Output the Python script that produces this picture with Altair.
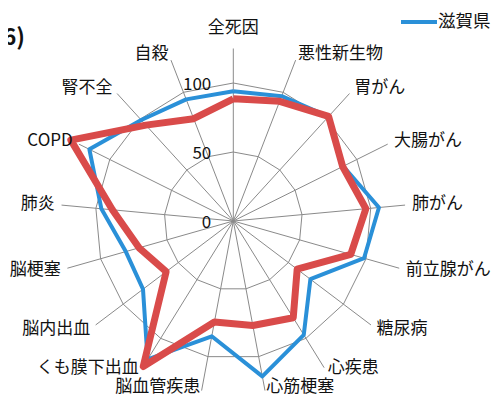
import altair as alt
import pandas as pd

categories = ["全死因", "悪性新生物", "胃がん", "大腸がん", "肺がん", "前立腺がん", "糖尿病",
              "心疾患", "心筋梗塞", "脳血管疾患", "くも膜下出血", "脳内出血", "脳梗塞",
              "肺炎", "COPD", "腎不全", "自殺"]
shiga = [94, 97, 102.5, 89, 106, 98.5, 70, 97, 114.5, 85, 118, 82, 81, 96, 116.5, 99, 94.5]
other = [88.5, 93, 102.5, 88.5, 96.5, 88.5, 58, 82.5, 77, 74.5, 124, 61, 71, 88, 131.5, 94, 79.5]
series_names = ["滋賀県", "対象地域"]
series_colors = ["#2A90D8", "#D94B4A"]
ring_levels = [50, 100]
tick_values = [0, 50, 100]
axis_max = 125
label_radius = 130
title_frag = ["(2012-2016)", "男性"]

n = len(categories)
W, H = 483, 387
cx, cy = 225.3, 213.0
ppu = 1.38
xs = alt.Scale(domain=[-cx / ppu, (W - cx) / ppu], nice=False, zero=False)
ys = alt.Scale(domain=[-(H - cy) / ppu, cy / ppu], nice=False, zero=False)
ang = f"datum.idx * 2 * PI / {n}"
FONT = "Noto Sans CJK JP"

def X(f):
    return alt.X(f, type="quantitative", scale=xs, axis=None)

def Y(f):
    return alt.Y(f, type="quantitative", scale=ys, axis=None)

# series data (closed polygons)
rows = []
for s, vals in zip(series_names, [shiga, other]):
    for i in range(n + 1):
        rows.append({"series": s, "order": i, "idx": i % n, "value": vals[i % n]})
sdf = pd.DataFrame(rows)

ring_rows = [{"level": lv, "order": i, "idx": i % n} for lv in ring_levels for i in range(n + 1)]
rdf = pd.DataFrame(ring_rows)

cdf = pd.DataFrame({"idx": list(range(n)), "name": categories})
tdf = pd.DataFrame({"v": tick_values, "t": [str(v) for v in tick_values]})

rings = alt.Chart(rdf).transform_calculate(
    x=f"datum.level * sin({ang})", y=f"datum.level * cos({ang})"
).mark_line(color="#8a8a8a", strokeWidth=1).encode(
    x=X("x:Q"), y=Y("y:Q"), detail="level:N", order="order:Q")

spokes = alt.Chart(cdf).transform_calculate(
    x0="0", y0="0",
    x2=f"{axis_max} * sin({ang})", y2=f"{axis_max} * cos({ang})"
).mark_rule(color="#8a8a8a", strokeWidth=1).encode(
    x=X("x0:Q"), y=Y("y0:Q"), x2="x2:Q", y2="y2:Q")

def series_layer(name, color, width):
    return alt.Chart(sdf).transform_filter(alt.datum.series == name).transform_calculate(
        x=f"datum.value * sin({ang})", y=f"datum.value * cos({ang})"
    ).mark_line(color=color, strokeWidth=width, strokeJoin="round").encode(
        x=X("x:Q"), y=Y("y:Q"), order="order:Q")

blue = series_layer(series_names[0], series_colors[0], 4)
red = series_layer(series_names[1], series_colors[1], 7)

# label anchor at label_radius; nudge labels near the bottom/top (pixels -> data units)
lab_base = alt.Chart(cdf).transform_calculate(
    s=f"sin({ang})", c=f"cos({ang})",
    lx=f"{label_radius} * sin({ang})",
    ly=(f"{label_radius} * cos({ang}) + "
        f"(cos({ang}) <= -0.9 ? 10.5 : (cos({ang}) <= -0.8 ? 6 : (cos({ang}) > 0.99 ? 14 : 0))) / {ppu}"))

TXT = dict(font=FONT, fontSize=17, color="#111", baseline="middle")
lab_right = lab_base.transform_filter("datum.s > 0.05").mark_text(
    align="left", **TXT).encode(x=X("lx:Q"), y=Y("ly:Q"), text="name:N")
lab_left = lab_base.transform_filter("datum.s < -0.05").mark_text(
    align="right", **TXT).encode(x=X("lx:Q"), y=Y("ly:Q"), text="name:N")
lab_top = lab_base.transform_filter("abs(datum.s) <= 0.05").mark_text(
    align="center", **TXT).encode(x=X("lx:Q"), y=Y("ly:Q"), text="name:N")

ticks = alt.Chart(tdf).transform_calculate(x0="0").mark_text(
    align="right", dx=-22, dy=2, **TXT).encode(
    x=X("x0:Q"), y=Y("v:Q"), text="t:N")

legend_df = pd.DataFrame({"name": [series_names[0]]})
leg_line = alt.Chart(legend_df).mark_rule(color=series_colors[0], strokeWidth=4).encode(
    x=alt.value(393), x2=alt.value(429), y=alt.value(14))
leg_text = alt.Chart(legend_df).mark_text(
    align="left", baseline="middle", font=FONT, fontSize=17.5, color="#111").encode(
    x=alt.value(430), y=alt.value(14), text="name:N")

tdf2 = pd.DataFrame({"t": title_frag, "row": [0, 1]})
title1 = alt.Chart(tdf2).transform_filter("datum.row == 0").mark_text(
    align="right", baseline="middle", font=FONT, fontSize=23, fontWeight="bold", color="#111").encode(
    x=alt.value(17), y=alt.value(30), text="t:N")
title2 = alt.Chart(tdf2).transform_filter("datum.row == 1").mark_text(
    align="right", baseline="middle", font=FONT, fontSize=24, fontWeight="bold", color="#111").encode(
    x=alt.value(0), y=alt.value(63), text="t:N")

chart = alt.layer(rings, spokes, blue, red, lab_right, lab_left, lab_top,
                  ticks, leg_line, leg_text, title1, title2).properties(
    width=W, height=H, autosize=alt.AutoSizeParams(type="none"), padding=0
).configure_view(stroke=None)

chart.save("out.html", embed_options={"renderer": "svg", "actions": False})
